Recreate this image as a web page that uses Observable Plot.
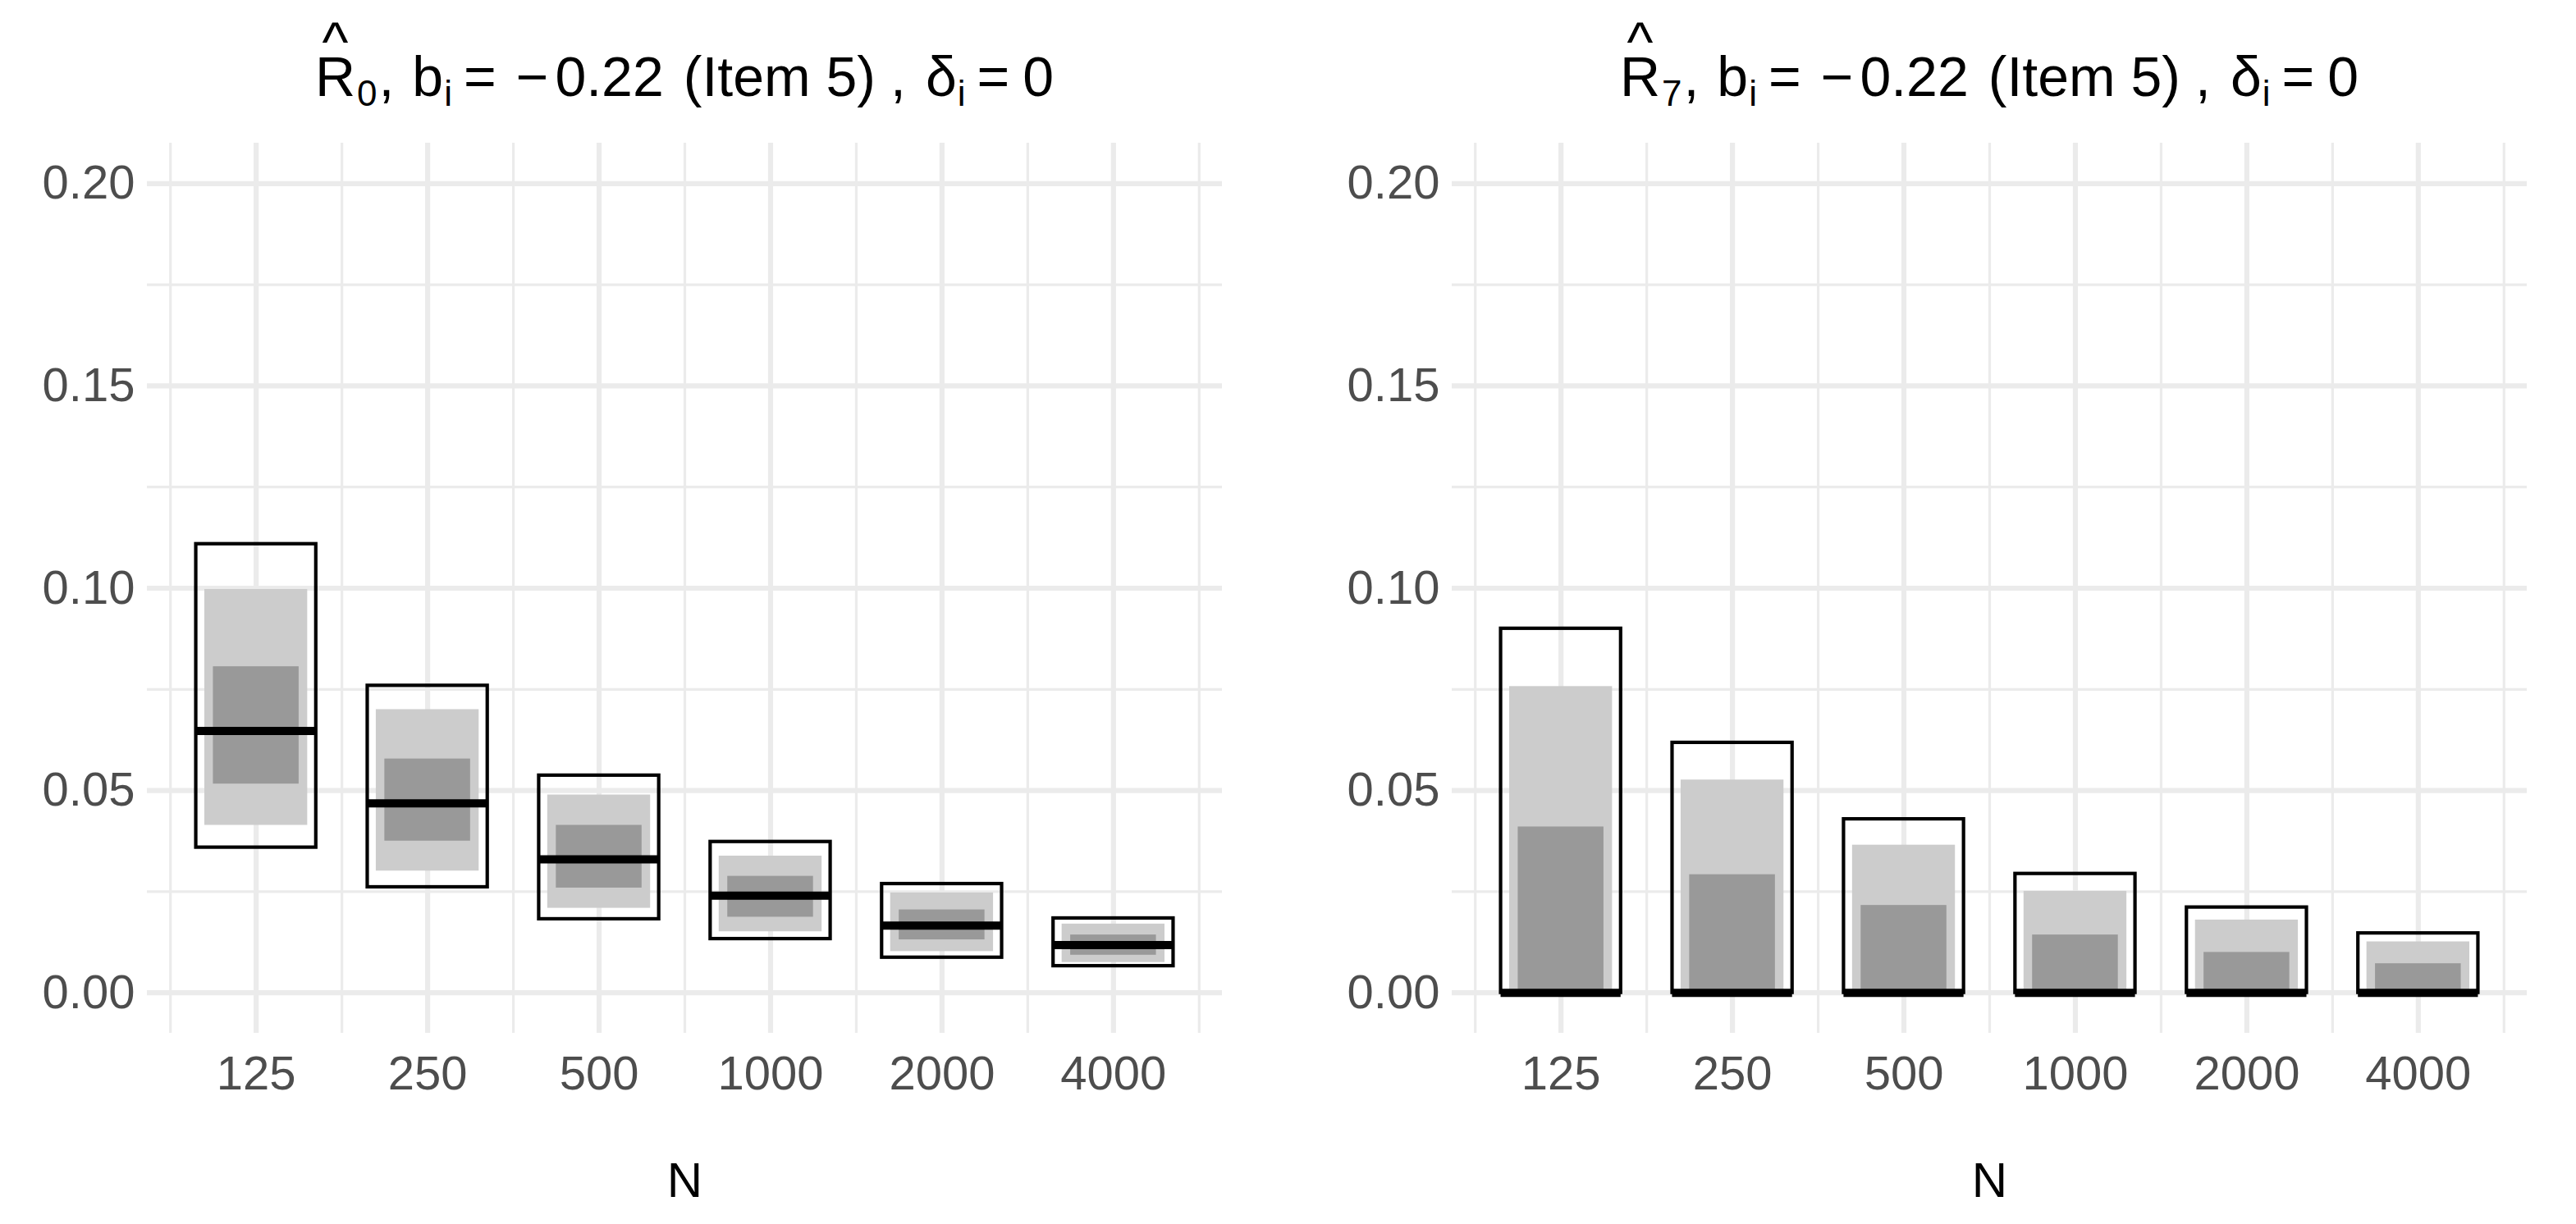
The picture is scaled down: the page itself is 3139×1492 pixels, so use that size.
<!DOCTYPE html>
<html>
<head>
<meta charset="utf-8">
<script src="https://cdn.jsdelivr.net/npm/d3@7"></script>
<script src="https://cdn.jsdelivr.net/npm/@observablehq/plot@0.6"></script>
<style>
  html, body { margin: 0; padding: 0; background: #ffffff; }
  #chart { width: 3139px; height: 1492px; overflow: hidden; }
</style>
</head>
<body>
<div id="chart"></div>
<script>
// ---------------- data ----------------
const N = [125, 250, 500, 1000, 2000, 4000];
const panels = ["R0", "R7"];
const panelIndex = ["0", "7"];

// Panel R-hat 0
const r0OuterLow  = [0.0359, 0.0261, 0.0182, 0.0133, 0.0087, 0.0066];
const r0OuterHigh = [0.1109, 0.0759, 0.0537, 0.0373, 0.0269, 0.0184];
const r0LightLow  = [0.0414, 0.0301, 0.0209, 0.0151, 0.0102, 0.0075];
const r0LightHigh = [0.0997, 0.0700, 0.0489, 0.0338, 0.0247, 0.0170];
const r0DarkLow   = [0.0516, 0.0375, 0.0259, 0.0187, 0.0131, 0.0093];
const r0DarkHigh  = [0.0806, 0.0578, 0.0414, 0.0288, 0.0205, 0.0143];
const r0Median    = [0.0647, 0.0468, 0.0330, 0.0240, 0.0166, 0.0118];

// Panel R-hat 7
const r7OuterLow  = [0, 0, 0, 0, 0, 0];
const r7OuterHigh = [0.0900, 0.0618, 0.0429, 0.0294, 0.0211, 0.0147];
const r7LightLow  = [0, 0, 0, 0, 0, 0];
const r7LightHigh = [0.0757, 0.0526, 0.0365, 0.0251, 0.0180, 0.0126];
const r7DarkLow   = [0, 0, 0, 0, 0, 0];
const r7DarkHigh  = [0.0410, 0.0292, 0.0216, 0.0143, 0.0100, 0.0072];
const r7Median    = [0, 0, 0, 0, 0, 0];

// axis ticks
const yTicks = [0, 0.05, 0.10, 0.15, 0.20];
const yMinorTicks = [0.025, 0.075, 0.125, 0.175];
const xMinorTicks = [88.39, 176.78, 353.55, 707.11, 1414.21, 2828.43, 5656.85];

// ---------------- table ----------------
const series = {
  R0: {oLo: r0OuterLow, oHi: r0OuterHigh, lLo: r0LightLow, lHi: r0LightHigh, dLo: r0DarkLow, dHi: r0DarkHigh, med: r0Median},
  R7: {oLo: r7OuterLow, oHi: r7OuterHigh, lLo: r7LightLow, lHi: r7LightHigh, dLo: r7DarkLow, dHi: r7DarkHigh, med: r7Median}
};
const rows = [];
for (const p of panels) {
  const s = series[p];
  N.forEach((n, i) => rows.push({
    panel: p, N: n,
    oLo: s.oLo[i], oHi: s.oHi[i],
    lLo: s.lLo[i], lHi: s.lHi[i],
    dLo: s.dLo[i], dHi: s.dHi[i],
    med: s.med[i]
  }));
}

const HW_OUTER = 0.35, HW_LIGHT = 0.30, HW_DARK = 0.25; // half widths on log2 axis
const lo = (hw) => (d) => d.N * Math.pow(2, -hw);
const hi = (hw) => (d) => d.N * Math.pow(2, hw);

const FONT = "'Liberation Sans', Arial, Helvetica, sans-serif";
const GRID = "#EBEBEB";
const MARGIN_LEFT = 179, MARGIN_RIGHT = 60, MARGIN_TOP = 174, MARGIN_BOTTOM = 233;
const WIDTH = 3139, HEIGHT = 1492;
const FX_PAD = 0.1761;

const plot = Plot.plot({
  width: WIDTH,
  height: HEIGHT,
  marginLeft: MARGIN_LEFT,
  marginRight: MARGIN_RIGHT,
  marginTop: MARGIN_TOP,
  marginBottom: MARGIN_BOTTOM,
  style: {fontFamily: FONT, background: "#ffffff", overflow: "visible"},
  fx: {domain: panels, axis: null, label: null, paddingInner: FX_PAD, paddingOuter: 0, round: false},
  x: {type: "log", base: 2, domain: [125 * Math.pow(2, -0.635), 125 * Math.pow(2, 5.635)], round: false, label: null},
  y: {domain: [-0.01, 0.21], label: null},
  marks: [
    Plot.gridX({ticks: xMinorTicks, stroke: GRID, strokeOpacity: 1, strokeWidth: 3.2}),
    Plot.gridY({ticks: yMinorTicks, stroke: GRID, strokeOpacity: 1, strokeWidth: 3.2}),
    Plot.gridX({ticks: N, stroke: GRID, strokeOpacity: 1, strokeWidth: 6.2}),
    Plot.gridY({ticks: yTicks, stroke: GRID, strokeOpacity: 1, strokeWidth: 6.2}),
    Plot.rect(rows, {fx: "panel", x1: lo(HW_LIGHT), x2: hi(HW_LIGHT), y1: "lLo", y2: "lHi", fill: "#CCCCCC"}),
    Plot.rect(rows, {fx: "panel", x1: lo(HW_DARK), x2: hi(HW_DARK), y1: "dLo", y2: "dHi", fill: "#999999"}),
    Plot.ruleY(rows, {fx: "panel", y: "med", x1: lo(HW_OUTER), x2: hi(HW_OUTER), stroke: "#000000", strokeWidth: 10}),
    Plot.rect(rows, {fx: "panel", x1: lo(HW_OUTER), x2: hi(HW_OUTER), y1: "oLo", y2: "oHi", fill: "none", stroke: "#000000", strokeWidth: 4.2}),
    Plot.axisY({ticks: yTicks, tickFormat: d3.format(".2f"), tickSize: 0, tickPadding: 15, fontSize: 58, fill: "#4D4D4D", label: null, facetAnchor: null}),
    Plot.axisX({ticks: N, tickFormat: d3.format("d"), tickSize: 0, tickPadding: 27, fontSize: 58, fill: "#4D4D4D", label: null}),
    Plot.text(["N"], {text: (d) => d, frameAnchor: "bottom", lineAnchor: "top", dy: 157, fontSize: 60, fill: "#000000"})
  ]
});

document.getElementById("chart").appendChild(plot);

// ---------------- titles (plotmath-like) ----------------
function panelCenter(i) {
  try {
    const fx = plot.scale("fx");
    if (fx && typeof fx.apply === "function" && fx.bandwidth) {
      return fx.apply(panels[i]) + fx.bandwidth / 2;
    }
  } catch (e) {}
  const inner = WIDTH - MARGIN_LEFT - MARGIN_RIGHT;
  const step = inner / (2 - FX_PAD);
  const bw = step * (1 - FX_PAD);
  return MARGIN_LEFT + i * step + bw / 2;
}

function addTitle(i) {
  const cx = panelCenter(i);
  const FS = 68, SS = 44;
  const t = d3.select(plot).append("text")
    .attr("x", cx).attr("y", 117)
    .attr("text-anchor", "middle")
    .attr("font-family", FONT)
    .attr("font-size", FS)
    .attr("fill", "#000000");
  const pieces = [
    {s: "R"},
    {s: "^", dx: -40.5, dy: -42},
    {s: panelIndex[i], dx: 10.5, dy: 54, fs: SS},
    {s: ",", dx: 2, dy: -12},
    {s: "b", dx: 22},
    {s: "i", dx: 1, dy: 12, fs: SS},
    {s: "=", dx: 14, dy: -12},
    {s: "\u2212", dx: 24},
    {s: "0.22", dx: 8},
    {s: "(Item 5)", dx: 24},
    {s: ",", dx: 18},
    {s: "\u03B4", dx: 24},
    {s: "i", dx: 1, dy: 12, fs: SS},
    {s: "=", dx: 14, dy: -12},
    {s: "0", dx: 16}
  ];
  for (const p of pieces) {
    const ts = t.append("tspan").text(p.s);
    if (p.dx) ts.attr("dx", p.dx);
    if (p.dy) ts.attr("dy", p.dy);
    if (p.fs) ts.attr("font-size", p.fs);
  }
}
addTitle(0);
addTitle(1);
</script>
</body>
</html>
